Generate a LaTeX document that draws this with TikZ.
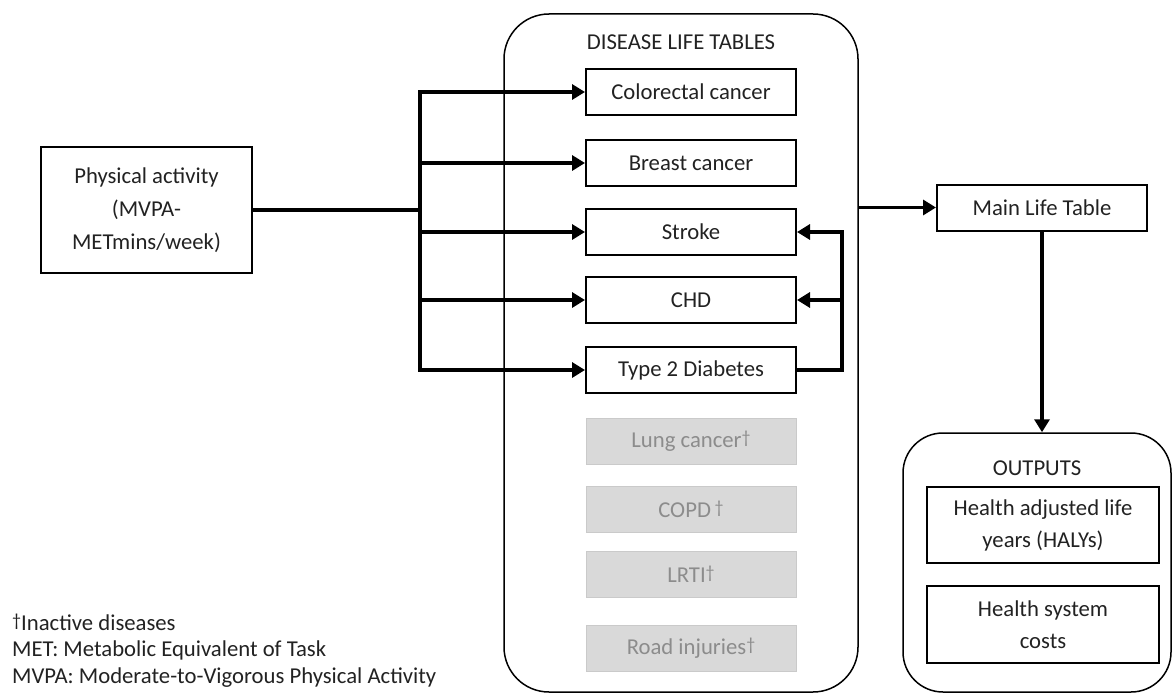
\documentclass[tikz,border=0pt]{standalone}
\usepackage{fontspec}
\setmainfont{Carlito}
\usetikzlibrary{arrows.meta,positioning,calc}
\definecolor{dtext}{HTML}{222222}
\definecolor{ifill}{HTML}{D9D9D9}
\definecolor{idraw}{HTML}{CACACA}
\definecolor{itext}{HTML}{8C8C8C}
\newcommand{\dg}{\raisebox{0.35ex}{\fontsize{18}{18}\selectfont †}}

\begin{document}
\begin{tikzpicture}[x=1pt, y=-1pt, font=\fontsize{22.7}{32}\selectfont, text=dtext,
 box/.style={draw=black, line width=2pt, minimum width=210pt, minimum height=46pt, inner sep=0pt, align=center},
 ibox/.style={fill=ifill, draw=idraw, line width=1pt, text=itext, minimum width=210pt, minimum height=46pt, inner sep=0pt},
 group/.style={draw=black, line width=1.5pt, inner sep=0pt},
 conn/.style={line width=3.4pt},
 arr/.style={conn, -{Triangle[length=13pt,width=15pt]}}]
 \useasboundingbox (0,0) rectangle (1172,693);
 \node[group, rounded corners=45pt, minimum width=354pt, minimum height=678pt] (dlt) at (681,353) {};
 \node (dlttitle) at (681,42) {DISEASE LIFE TABLES};
 \node[box, minimum width=211pt, minimum height=126pt, font=\fontsize{22.7}{33}\selectfont] (pa) at (146.5,210) {Physical activity\\(MVPA-\\METmins/week)};
 \node[box] (crc) at (691,92) {Colorectal cancer};
 \node[box] (brc) at (691,163) {Breast cancer};
 \node[box] (stk) at (691,232) {Stroke};
 \node[box] (chd) at (691,300) {CHD};
 \node[box] (t2d) at (691,370) {Type 2 Diabetes};
 \node[ibox] (lung) at (691,441) {Lung cancer\dg};
 \node[ibox] (copd) at (691,509) {COPD\,\dg};
 \node[ibox] (lrti) at (691,574) {LRTI\dg};
 \node[ibox] (road) at (691,648) {Road injuries\dg};
 \node[box] (mlt) at (1042,207.5) {Main Life Table};
 \node[group, rounded corners=40pt, minimum width=268pt, minimum height=259pt] (outs) at (1037,562.5) {};
 \node (outtitle) at (1037,468) {OUTPUTS};
 \node[box, minimum width=232pt, minimum height=76pt] (haly) at (1043,525) {Health adjusted life\\years (HALYs)};
 \node[box, minimum width=232pt, minimum height=77pt] (cost) at (1043,624.5) {Health system\\costs};
 \node[anchor=west, inner sep=0pt] (leg1) at (12,622) {\dg Inactive diseases};
 \node[anchor=west, inner sep=0pt] (leg2) at (12,650) {MET: Metabolic Equivalent of Task};
 \node[anchor=west, inner sep=0pt] (leg3) at (12,678) {MVPA: Moderate-to-Vigorous Physical Activity};
 \coordinate (jn) at (420,210);
 \coordinate (fb) at (842,232);
 \draw[conn] (pa.east) -- (jn);
 \draw[conn, line cap=rect] (jn |- crc.west) -- (jn |- t2d.west);
 \foreach \d in {crc,brc,stk,chd,t2d}
  \draw[arr] (jn |- \d.west) -- (\d.west);
 \draw[arr] (t2d.east) -- (fb |- t2d.east) -- (fb |- stk.east) -- (stk.east);
 \draw[arr] (fb |- chd.east) -- (chd.east);
 \draw[arr] (dlt.east |- mlt.west) -- (mlt.west);
 \draw[arr] (mlt.south) -- (mlt.south |- outs.north);
\end{tikzpicture}
\end{document}
